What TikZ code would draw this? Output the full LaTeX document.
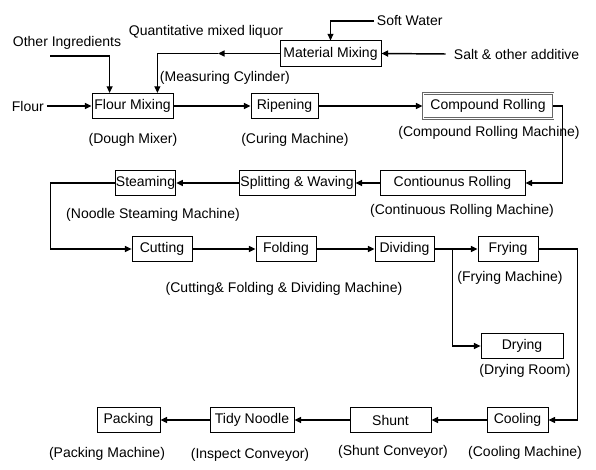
\documentclass[tikz,border=0pt]{standalone}
\usepackage{fontspec}
\setmainfont{Liberation Sans}
\usetikzlibrary{arrows.meta}

\begin{document}
\begin{tikzpicture}[x=0.75pt,y=-0.75pt,
    font=\fontsize{10.5}{12}\selectfont,
    >={Triangle[length=5pt,width=4.5pt]},
    caja/.style={draw, line width=0.6pt, minimum height=19pt, inner xsep=0.5pt, inner ysep=1pt},
    etiqueta/.style={inner sep=2pt},
    flecha/.style={->, line width=1.1pt},
    ruta/.style={->, line width=0.8pt}]
    % Area fija de la figura
    \useasboundingbox (0,0) rectangle (596,470);

    % Cajas de proceso
    \node[caja, minimum width=75.75pt] (mat) at (330.5,53.5) {Material Mixing};
    \node[caja, minimum width=60.75pt] (fmix) at (132.5,106) {Flour Mixing};
    \node[caja, minimum width=50.25pt] (ripen) at (284.5,106) {Ripening};
    \node[caja, minimum width=97.5pt, double=white, double distance=0.6pt, draw=gray!80!black] (comp) at (488,106) {Compound Rolling};

    \node[caja, minimum width=108.75pt] (contr) at (452.5,183) {Contiounus Rolling};
    \node[caja, minimum width=87pt] (split) at (297,183) {Splitting \& Waving};
    \node[caja, minimum width=44.25pt] (steam) at (145.5,183) {Steaming};

    \node[caja, minimum width=45pt] (cut) at (162,249) {Cutting};
    \node[caja, minimum width=45pt] (fold) at (286,249) {Folding};
    \node[caja, minimum width=44.25pt] (divid) at (404.5,249) {Dividing};
    \node[caja, minimum width=45pt] (fry) at (508,249) {Frying};
    \node[caja, minimum width=61.5pt] (dry) at (522,346) {Drying};

    \node[caja, minimum width=45.75pt] (cool) at (517.5,420) {Cooling};
    \node[caja, minimum width=60.75pt] (shunt) at (390.5,420) {Shunt};
    \node[caja, minimum width=63pt] (tidy) at (252,420) {Tidy Noodle};
    \node[caja, minimum width=47.25pt] (pack) at (128.5,420) {Packing};

    % Entradas
    \node[etiqueta] (qml) at (206,32) {Quantitative mixed liquor};
    \node[etiqueta] (oth) at (67,43) {Other Ingredients};
    \node[etiqueta, anchor=west] (soft) at (374,21) {Soft Water};
    \node[etiqueta, anchor=west] (salt) at (451,54) {Salt \& other additive};
    \node[etiqueta, anchor=west] (flour) at (9,106) {Flour};

    % Maquinas
    \node[etiqueta, anchor=west] (meas) at (157,78) {(Measuring Cylinder)};
    \node[etiqueta] (dough) at (133,140) {(Dough Mixer)};
    \node[etiqueta] (curing) at (295,140) {(Curing Machine)};
    \node[etiqueta] (compm) at (489,133) {(Compound Rolling Machine)};
    \node[etiqueta] (steamm) at (153,215) {(Noodle Steaming Machine)};
    \node[etiqueta] (contm) at (462,211) {(Continuous Rolling Machine)};
    \node[etiqueta] (cfd) at (284,289) {(Cutting\& Folding \& Dividing Machine)};
    \node[etiqueta] (frym) at (510,278) {(Frying Machine)};
    \node[etiqueta] (drym) at (525,371) {(Drying Room)};
    \node[etiqueta] (packm) at (107,454) {(Packing Machine)};
    \node[etiqueta] (inspm) at (250,455) {(Inspect Conveyor)};
    \node[etiqueta] (shuntm) at (393,452) {(Shunt Conveyor)};
    \node[etiqueta] (coolm) at (525,453) {(Cooling Machine)};

    % Puntos libres
    \coordinate (othstart) at (50,56);
    \coordinate (liq) at (218,53.5);

    % Flechas
    \draw[ruta] (soft.west) -| (mat.north);
    \draw[flecha] ([xshift=-4pt]salt.west) -- (mat.east);
    \draw[flecha] (mat.west) -- (liq);
    \draw[ruta] (liq) -| ([xshift=-12pt]fmix.north east);
    \draw[ruta] (othstart) -| ([xshift=13.5pt]fmix.north west);
    \draw[flecha] (flour.east) -- (fmix.west);
    \draw[flecha] (fmix) -- (ripen);
    \draw[flecha] (ripen) -- (comp);
    \draw[ruta] (comp.east) -- ++(9,0) |- (contr.east);
    \draw[flecha] (contr) -- (split);
    \draw[flecha] (split) -- (steam);
    \draw[ruta] (steam.west) -- ++(-64,0) |- (cut.west);
    \draw[flecha] (cut) -- (fold);
    \draw[flecha] (fold) -- (divid);
    \draw[flecha] (divid) -- (fry);
    \draw[ruta] ([xshift=13.5pt]divid.east) |- (dry.west);
    \draw[ruta] (fry.east) -- ++(39,0) |- (cool.east);
    \draw[flecha] (cool) -- (shunt);
    \draw[flecha] (shunt) -- (tidy);
    \draw[flecha] (tidy) -- (pack);
\end{tikzpicture}
\end{document}
